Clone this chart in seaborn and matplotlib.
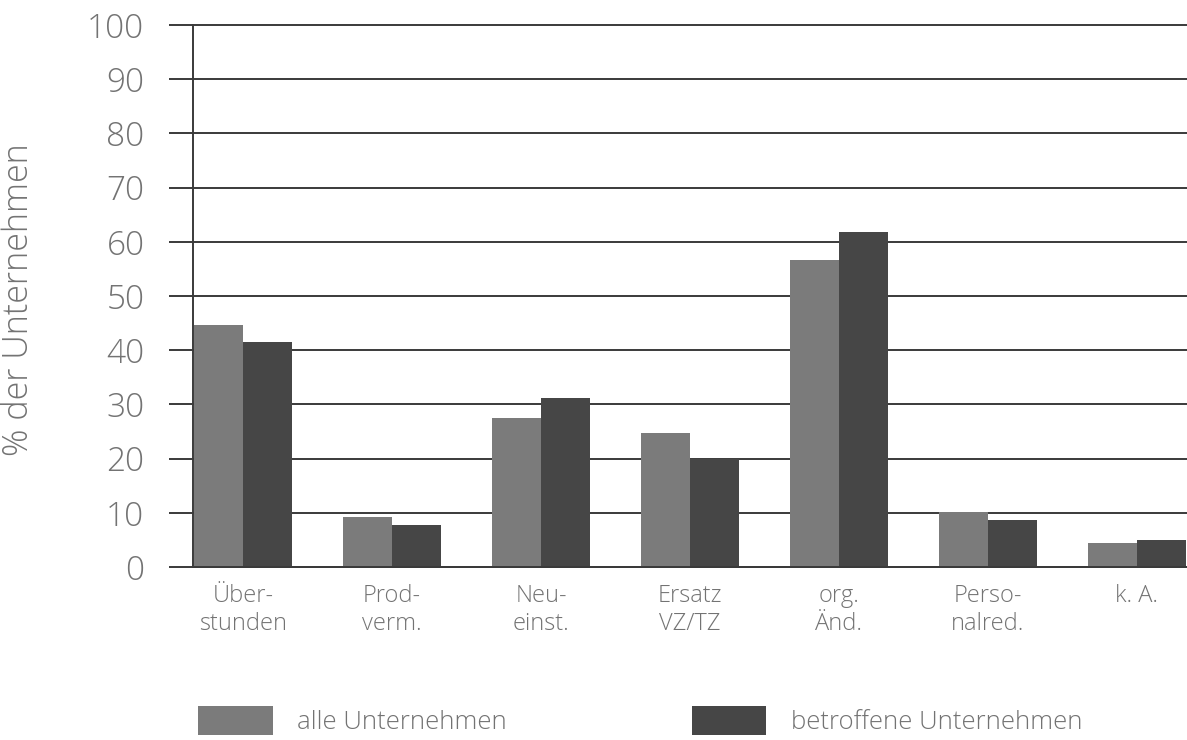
import matplotlib
matplotlib.use("Agg")
import matplotlib.pyplot as plt
import seaborn as sns
import pandas as pd
from matplotlib.patches import Patch

# Measures taken by companies, share of companies in percent
categories = ["Über-\nstunden", "Prod-\nverm.", "Neu-\neinst.", "Ersatz\nVZ/TZ",
              "org.\nÄnd.", "Perso-\nnalred.", "k. A."]
alle = [44.6, 9.2, 27.5, 24.7, 56.6, 10.1, 4.5]
betroffene = [41.6, 7.7, 31.1, 20.0, 61.9, 8.7, 4.9]
series_names = ["alle Unternehmen", "betroffene Unternehmen"]
yticks = [0, 10, 20, 30, 40, 50, 60, 70, 80, 90, 100]

df = pd.DataFrame({
    "Kategorie": categories * 2,
    "Anteil": alle + betroffene,
    "Gruppe": [series_names[0]] * len(categories) + [series_names[1]] * len(categories),
})

sns.set_theme(style="white")
plt.rcParams["font.family"] = ["Open Sans", "DejaVu Sans"]
plt.rcParams["font.weight"] = "light"

text_col = "#737373"
line_col = "#3a3a3a"
colors = ["#7b7b7b", "#464646"]

fig = plt.figure(figsize=(11.87, 7.40), dpi=100)
ax = fig.add_axes([193 / 1187, 1 - 567 / 740, 1 - 193 / 1187, (567 - 25) / 740])

sns.barplot(data=df, x="Kategorie", y="Anteil", hue="Gruppe", order=categories,
            hue_order=series_names, palette=colors, width=0.66, gap=0,
            saturation=1, linewidth=0, legend=False, ax=ax)

ax.set_xlim(-0.336, len(categories) - 1 + 0.336)
ax.set_ylim(0, 100)
ax.set_yticks(yticks)
ax.set_yticklabels([str(t) for t in yticks], fontsize=24, color=text_col, fontweight="light")
ax.yaxis.grid(True, color=line_col, linewidth=1.4)
for gl in ax.get_ygridlines():
    gl.set_clip_on(False)
ax.set_axisbelow(True)
ax.tick_params(axis="y", direction="out", length=17, width=1.4, color=line_col, pad=18, left=True)
ax.tick_params(axis="x", length=0, pad=12, labelsize=17, labelcolor=text_col)
for lab in ax.get_xticklabels():
    lab.set_linespacing(1.25)
    lab.set_verticalalignment("top")
    lab.set_fontweight("light")

for side in ["top", "right"]:
    ax.spines[side].set_visible(False)
ax.spines["left"].set_color(line_col)
ax.spines["left"].set_linewidth(1.4)
ax.spines["bottom"].set_color(line_col)
ax.spines["bottom"].set_linewidth(1.4)

ax.set_xlabel("")
ax.set_ylabel("% der Unternehmen", fontsize=24.5, color=text_col, fontweight="light")
ax.yaxis.set_label_coords(-0.158, 0.493)

handles = [Patch(facecolor=c, edgecolor="none") for c in colors]
fig.legend(handles, series_names, loc="lower left", bbox_to_anchor=(193 / 1187, 0.0),
           ncol=2, frameon=False, prop={"size": 18.5, "weight": "light"}, labelcolor=text_col,
           handlelength=2.9, handleheight=1.36, handletextpad=0.95,
           columnspacing=7.2, borderpad=0.1, borderaxespad=0.1)

fig.savefig("out.png", dpi=100, facecolor="white")
